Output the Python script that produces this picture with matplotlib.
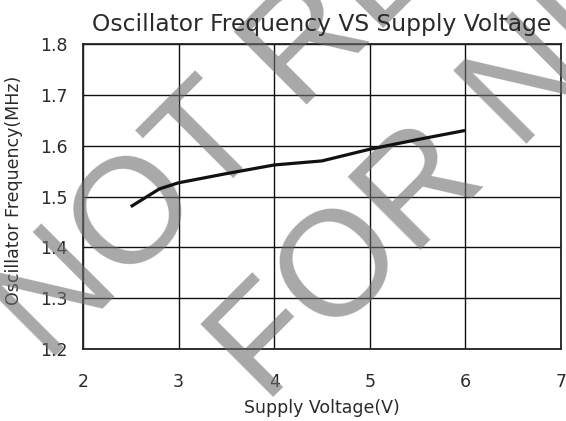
import matplotlib
matplotlib.use("Agg")
import matplotlib.pyplot as plt

# supply voltage (V) vs oscillator frequency (MHz)
voltage = [2.5, 2.8, 3.0, 3.5, 4.0, 4.5, 5.0, 5.5, 6.0]
freq = [1.48, 1.515, 1.527, 1.545, 1.562, 1.57, 1.593, 1.612, 1.63]

x_ticks = [2, 3, 4, 5, 6, 7]
y_ticks = [1.2, 1.3, 1.4, 1.5, 1.6, 1.7, 1.8]

plt.rcParams['font.family'] = ['DejaVu Sans']
txt = '#2a2a2a'

fig = plt.figure(figsize=(5.66, 4.21), dpi=100)
ax = fig.add_axes([0.1466, 0.171, 0.8445, 0.7245])

ax.plot(voltage, freq, color='#111111', lw=2.3, zorder=4, solid_capstyle='butt')

ax.set_xlim(2, 7)
ax.set_ylim(1.2, 1.8)
ax.set_xticks(x_ticks)
ax.set_yticks(y_ticks)
ax.set_xticklabels([str(v) for v in x_ticks])
ax.set_yticklabels(["%.1f" % v for v in y_ticks])
ax.tick_params(length=0, labelsize=12.5, colors=txt)
ax.tick_params(axis='x', pad=17)
ax.tick_params(axis='y', pad=11)
ax.grid(True, color='#111111', lw=1.0)
for s in ax.spines.values():
    s.set_color('#222222')
    s.set_linewidth(1.3)

ax.set_title("Oscillator Frequency VS Supply Voltage", fontsize=16.8, color=txt, pad=9)
ax.set_xlabel("Supply Voltage(V)", fontsize=12.5, color=txt, labelpad=6)
ax.set_ylabel("Oscillator Frequency(MHz)", fontsize=12.5, color=txt)
ax.yaxis.set_label_coords(-0.125, 0.52)

# watermark
wm = dict(transform=fig.transFigure, rotation=45, rotation_mode='anchor',
          ha='left', va='baseline', fontsize=108, color='#6e6e6e',
          alpha=0.6, zorder=3, clip_on=False, family='Liberation Sans')
ax.text(0.083, 0.135, "NOT RECOMMENDED", **wm)
ax.text(0.468, 0.038, "FOR NEW DESIGN", **wm)

fig.savefig("out.png", dpi=100)
